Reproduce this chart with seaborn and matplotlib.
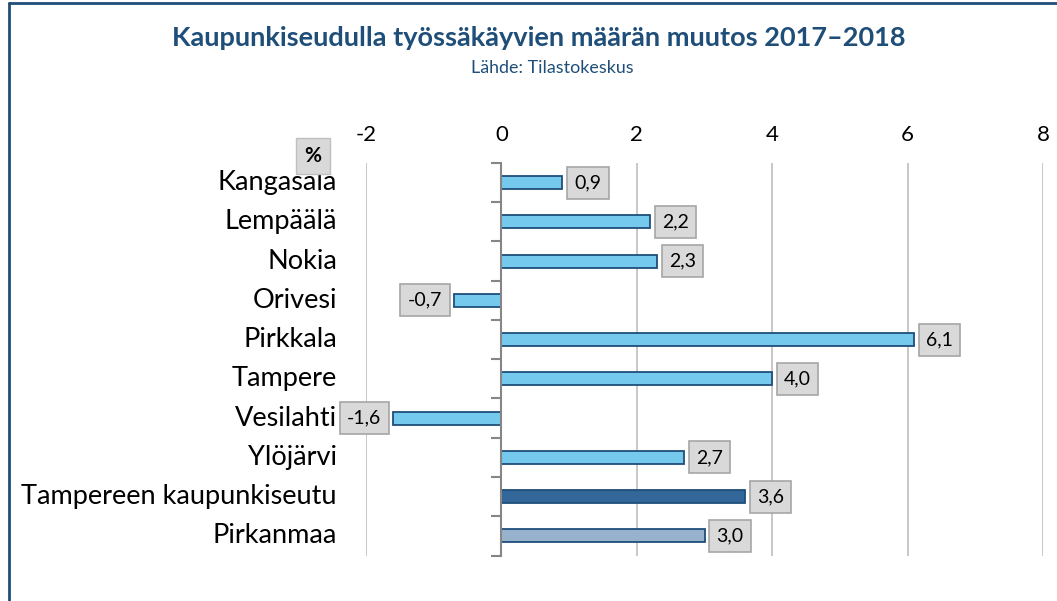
#!/usr/bin/env python3
"""
Kaupunkiseudulla työssäkäyvien määrän muutos 2017-2018 (horizontal bar chart)
"""

import matplotlib
matplotlib.use('Agg')
import matplotlib.pyplot as plt
import matplotlib.transforms as mtransforms
from matplotlib.lines import Line2D
import seaborn as sns

# Data
areas = ['Kangasala', 'Lempäälä', 'Nokia', 'Orivesi', 'Pirkkala', 'Tampere',
         'Vesilahti', 'Ylöjärvi', 'Tampereen kaupunkiseutu', 'Pirkanmaa']
change = [0.9, 2.2, 2.3, -0.7, 6.1, 4.0, -1.6, 2.7, 3.6, 3.0]
x_ticks = [-2, 0, 2, 4, 6, 8]

title = 'Kaupunkiseudulla työssäkäyvien määrän muutos 2017–2018'
subtitle = 'Lähde: Tilastokeskus'

# Colours
navy = '#1F4E79'
light = '#75C9EC'
bar_colors = [light] * 8 + ['#336699', '#97B2CD']

sns.set_theme(style='white')
plt.rcParams['font.family'] = ['Lato', 'DejaVu Sans']
plt.rcParams['axes.unicode_minus'] = False

fig = plt.figure(figsize=(10.57, 6.01), dpi=100)
ax = fig.add_axes([0.3463, 0.0757, 0.6405, 0.6531])

sns.barplot(x=change, y=areas, hue=areas, palette=bar_colors, legend=False,
            orient='h', width=0.33, saturation=1, edgecolor=navy,
            linewidth=1.3, ax=ax)

ax.set_xlim(-2, 8)
ax.set_ylim(9.5, -0.5)
ax.set_xticks(x_ticks)
ax.xaxis.tick_top()
ax.tick_params(axis='x', length=0, pad=13, labelsize=16, colors='#000000')
ax.grid(axis='x', color='#BFBFBF', linewidth=1.2)
ax.grid(axis='y', visible=False)
ax.set_axisbelow(True)
ax.set_xlabel('')
ax.set_ylabel('')

for side in ['top', 'right', 'bottom']:
    ax.spines[side].set_visible(False)
ax.spines['left'].set_position(('data', 0))
ax.spines['left'].set_color('#868686')
ax.spines['left'].set_linewidth(1.5)
ax.spines['left'].set_zorder(3)

# category ticks on the zero line, labels at the left of the plot
ax.set_yticks(range(len(areas)))
ax.set_yticks([i - 0.5 for i in range(len(areas) + 1)], minor=True)
ax.tick_params(axis='y', which='major', length=0, labelleft=False)
ax.tick_params(axis='y', which='minor', length=7, width=1.5, color='#868686',
               direction='out', left=True)

trans = mtransforms.blended_transform_factory(ax.transAxes, ax.transData)
for i, name in enumerate(areas):
    ax.text(-0.043, i, name, transform=trans, ha='right', va='center',
            fontsize=19.5, color='#000000')

# Value labels
for i, v in enumerate(change):
    label = f'{v:.1f}'.replace('.', ',')
    ax.annotate(label, (v, i), xytext=(8.5 if v >= 0 else -8.5, 0),
                textcoords='offset points', ha='left' if v >= 0 else 'right',
                va='center', fontsize=14, color='#000000',
                bbox=dict(boxstyle='square,pad=0.38', facecolor='#D9D9D9',
                          edgecolor='#A6A6A6', linewidth=1.2))

# Unit label
fig.text(313 / 1057, 1 - 156 / 601, '%', ha='center', va='center',
         fontsize=15, fontweight='bold', color='#000000',
         bbox=dict(boxstyle='square,pad=0.4', facecolor='#D9D9D9',
                   edgecolor='#BFBFBF', linewidth=1.0))

# Titles
fig.text(539 / 1057, 1 - 38 / 601, title, ha='center', va='center',
         fontsize=19.5, fontweight='bold', color=navy)
fig.text(552 / 1057, 1 - 68 / 601, subtitle, ha='center', va='center',
         fontsize=12.9, color=navy)

# Frame (cut off at the right and bottom)
fig.add_artist(Line2D([9 / 1057, 9 / 1057], [1 - 3 / 601, 0], color=navy,
                      linewidth=2, transform=fig.transFigure))
fig.add_artist(Line2D([9 / 1057, 1], [1 - 3 / 601, 1 - 3 / 601], color=navy,
                      linewidth=2, transform=fig.transFigure))

plt.savefig('out.png', dpi=100)
plt.close()
